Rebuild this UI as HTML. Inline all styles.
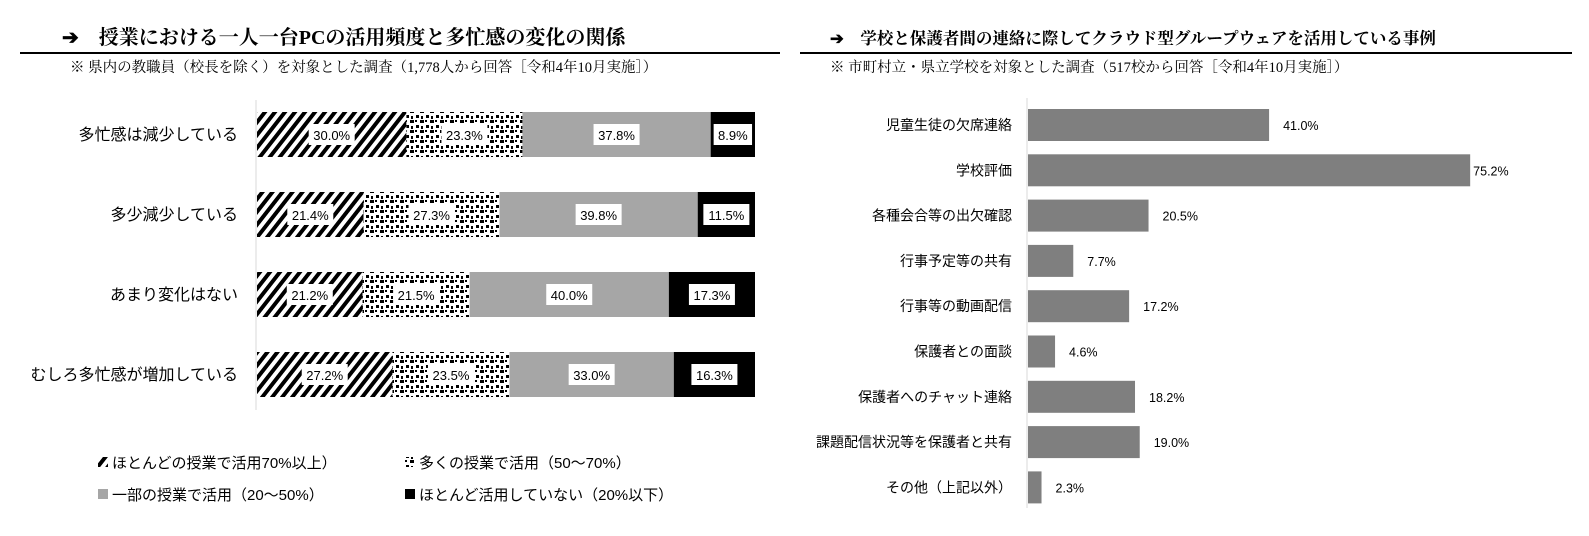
<!DOCTYPE html>
<html><head><meta charset="utf-8"><style>
body{margin:0;background:#fff;width:1589px;height:531px;overflow:hidden;font-family:"Liberation Sans","Noto Sans CJK JP",sans-serif}
svg text{font-family:"Liberation Sans","Noto Sans CJK JP",sans-serif}
.ser{font-family:"Liberation Serif","Noto Serif CJK SC",serif}
</style></head><body>
<svg id="s" width="1589" height="531" xmlns="http://www.w3.org/2000/svg">
<defs>
<pattern id="p1" width="10" height="10" patternUnits="userSpaceOnUse" patternTransform="skewX(-38)">
<rect width="10" height="10" fill="#fff"/><rect width="5" height="10" fill="#000"/></pattern>
<pattern id="p2" width="10" height="10" patternUnits="userSpaceOnUse">
<rect width="10" height="10" fill="#fff"/><rect x="0" y="0" width="4" height="3" fill="#000"/><rect x="6" y="5" width="3" height="3" fill="#000"/><rect x="5" y="0" width="2" height="2" fill="#000"/><rect x="1" y="6" width="2" height="3" fill="#000"/></pattern>
</defs>
<g>
<text class="ser" x="62" y="44" font-size="20" font-weight="bold">➔　授業における一人一台PCの活用頻度と多忙感の変化の関係</text>
<line x1="20" y1="53" x2="780" y2="53" stroke="#000" stroke-width="2"/>
<text class="ser" x="70" y="72" font-size="14.5">※ 県内の教職員（校長を除く）を対象とした調査（1,778人から回答［令和4年10月実施］）</text>
</g>
<g>
<text class="ser" x="830" y="44" font-size="16.5" font-weight="bold">➔　学校と保護者間の連絡に際してクラウド型グループウェアを活用している事例</text>
<line x1="800" y1="53" x2="1572" y2="53" stroke="#000" stroke-width="2"/>
<text class="ser" x="830" y="72" font-size="14.5">※ 市町村立・県立学校を対象とした調査（517校から回答［令和4年10月実施］）</text>
</g>
<g id="left"></g><g id="right"></g>
<g>
<rect x="98" y="457" width="10" height="10" fill="url(#p1)"/>
<text x="112" y="468" font-size="15">ほとんどの授業で活用70%以上）</text>
<rect x="405" y="457" width="10" height="10" fill="url(#p2)"/>
<text x="419" y="468" font-size="15">多くの授業で活用（50～70%）</text>
<rect x="98" y="489" width="10" height="10" fill="#a6a6a6"/>
<text x="112" y="500" font-size="15">一部の授業で活用（20～50%）</text>
<rect x="405" y="489" width="10" height="10" fill="#000"/>
<text x="419" y="500" font-size="15">ほとんど活用していない（20%以下）</text>
</g>
</svg>
<script>
const leftCats=["多忙感は減少している","多少減少している","あまり変化はない","むしろ多忙感が増加している"];
const sMost=[30.0,21.4,21.2,27.2];
const sMany=[23.3,27.3,21.5,23.5];
const sSome=[37.8,39.8,40.0,33.0];
const sNone=[8.9,11.5,17.3,16.3];
const rightCats=["児童生徒の欠席連絡","学校評価","各種会合等の出欠確認","行事予定等の共有","行事等の動画配信","保護者との面談","保護者へのチャット連絡","課題配信状況等を保護者と共有","その他（上記以外）"];
const rightVals=[41.0,75.2,20.5,7.7,17.2,4.6,18.2,19.0,2.3];
const NS="http://www.w3.org/2000/svg";
function mk(t,a,p){const e=document.createElementNS(NS,t);for(const k in a)e.setAttribute(k,a[k]);p.appendChild(e);return e;}
const L=document.getElementById('left');
const lx=v=>257+v*4.98, ly=i=>112+i*80;
mk('line',{x1:256,y1:100,x2:256,y2:410,stroke:'#d9d9d9'},L);
const series=[[sMost,'url(#p1)'],[sMany,'url(#p2)'],[sSome,'#a6a6a6'],[sNone,'#000']];
leftCats.forEach((c,i)=>{
 const t=mk('text',{x:238,y:ly(i)+28,'font-size':16,'text-anchor':'end'},L);t.textContent=c;
 
 
 let acc=0;
 series.forEach(([arr,f],j)=>{
  const v=arr[i];
  const r=mk('rect',{x:lx(acc),y:ly(i),width:lx(acc+v)-lx(acc),height:45,fill:f},L);
  
  
  const cx=(lx(acc)+lx(acc+v))/2, s=v.toFixed(1)+'%';
  const w=s.length*7.6+8;
  mk('rect',{x:cx-w/2,y:ly(i)+12,width:w,height:21,fill:'#fff'},L);
  const lt=mk('text',{x:cx,y:ly(i)+28,'font-size':13,'text-anchor':'middle'},L);lt.textContent=s;
  
  
  acc+=v;
 });
});
const R=document.getElementById('right');
const rx=v=>1028+v*5.88, ry=i=>109+i*45.3;
mk('line',{x1:1027,y1:98,x2:1027,y2:508,stroke:'#d9d9d9'},R);
rightCats.forEach((c,i)=>{
 const t=mk('text',{x:1012,y:ry(i)+21,'font-size':14,'text-anchor':'end'},R);t.textContent=c;
 
 
 const b=mk('rect',{x:rx(0),y:ry(i),width:rx(rightVals[i])-rx(0),height:32,fill:'#7f7f7f'},R);
 
 
 const v=mk('text',{x:rx(rightVals[i])+(rightVals[i]>70?3:14),y:ry(i)+21,'font-size':12.5},R);v.textContent=rightVals[i].toFixed(1)+'%';
 
 
});
</script>
</body></html>
